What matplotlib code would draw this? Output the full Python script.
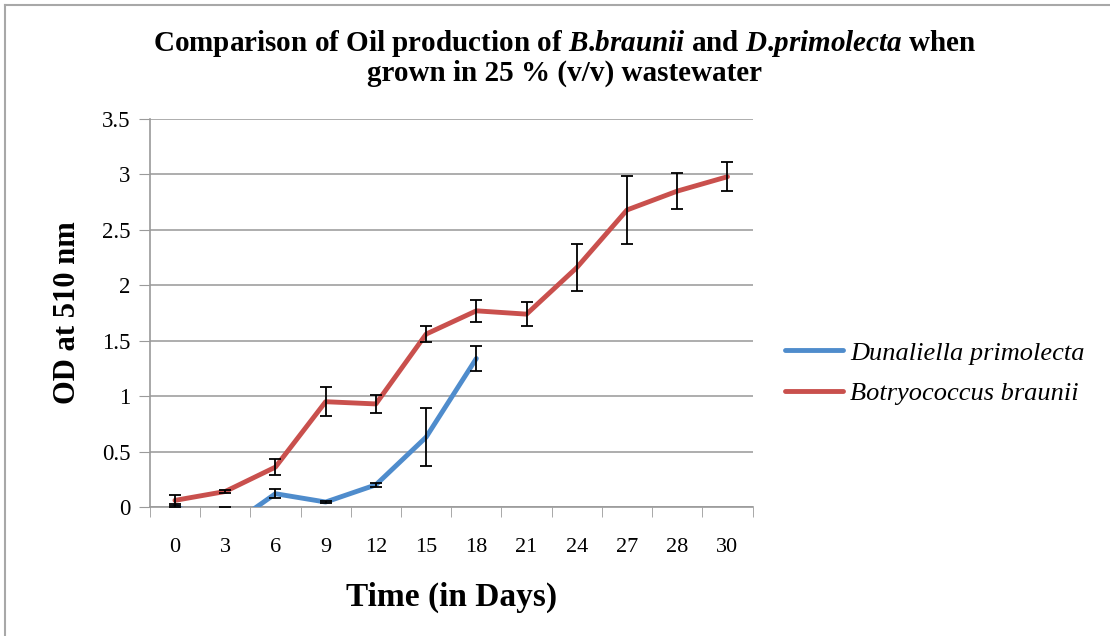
import matplotlib
matplotlib.use("Agg")
import matplotlib.pyplot as plt
import numpy as np
from matplotlib.lines import Line2D

plt.rcParams['font.family'] = ['Liberation Serif', 'DejaVu Serif']
plt.rcParams['mathtext.fontset'] = 'custom'
plt.rcParams['mathtext.rm'] = 'Liberation Serif:bold'
plt.rcParams['mathtext.it'] = 'Liberation Serif:italic:bold'
plt.rcParams['mathtext.bf'] = 'Liberation Serif:bold'

days = ['0', '3', '6', '9', '12', '15', '18', '21', '24', '27', '28', '30']

# Dunaliella primolecta (measured up to day 18)
dun_od = [0.01, -0.20, 0.12, 0.045, 0.20, 0.63, 1.34]
dun_err = [0.02, 0.20, 0.04, 0.01, 0.02, 0.26, 0.11]

# Botryococcus braunii
bot_od = [0.06, 0.14, 0.36, 0.95, 0.93, 1.56, 1.77, 1.74, 2.16, 2.68, 2.85, 2.98]
bot_err = [0.05, 0.01, 0.07, 0.13, 0.08, 0.07, 0.10, 0.11, 0.21, 0.31, 0.16, 0.13]

blue = '#4f8ccc'
red = '#c9504d'

fig = plt.figure(figsize=(11.1, 6.36), dpi=100)
ax = fig.add_axes([0.135, 0.2028, 0.543, 0.61])

x_all = np.arange(len(days))
x_dun = x_all[:len(dun_od)]

ax.plot(x_dun, dun_od, color=blue, lw=3.5, label='Dunaliella primolecta', zorder=3,
        solid_capstyle='round')
ax.plot(x_all, bot_od, color=red, lw=3.5, label='Botryococcus braunii', zorder=3,
        solid_capstyle='round')
ax.errorbar(x_dun, dun_od, yerr=dun_err, fmt='none', ecolor='black', elinewidth=1.3,
            capsize=4, capthick=1.3, zorder=4)
ax.errorbar(x_all, bot_od, yerr=bot_err, fmt='none', ecolor='black', elinewidth=1.3,
            capsize=4, capthick=1.3, zorder=4)

ax.set_xlim(-0.5, len(days) - 0.5)
ax.set_ylim(0, 3.5)
ax.set_yticks(np.arange(0, 3.51, 0.5))
ax.set_yticklabels(['0', '0.5', '1', '1.5', '2', '2.5', '3', '3.5'])
ax.set_xticks(x_all)
ax.set_xticklabels(days)
ax.set_xticks(np.arange(-0.5, len(days), 1), minor=True)
ax.tick_params(axis='x', which='major', length=0, labelsize=16, pad=22)
ax.tick_params(axis='x', which='minor', length=7, color='#9a9a9a', direction='out')
ax.tick_params(axis='y', length=8, color='#9a9a9a', labelsize=16.5, pad=6)

ax.grid(axis='y', color='#a0a0a0', lw=1.2)
ax.set_axisbelow(True)
for s in ['top', 'right']:
    ax.spines[s].set_visible(False)
for s in ['left', 'bottom']:
    ax.spines[s].set_color('#9a9a9a')
    ax.spines[s].set_linewidth(1.2)

ax.set_ylabel('OD at 510 nm', fontsize=22, fontweight='bold', labelpad=14)
ax.set_xlabel('Time (in Days)', fontsize=24, fontweight='bold', labelpad=18)

fig.text(0.509, 0.932,
         r'Comparison of Oil production of $\mathit{B}$.$\mathit{braunii}$ and $\mathit{D}$.$\mathit{primolecta}$ when',
         ha='center', va='center', fontsize=21, fontweight='bold')
fig.text(0.509, 0.885, 'grown in 25 % (v/v) wastewater',
         ha='center', va='center', fontsize=21, fontweight='bold')

leg = ax.legend(loc='center left', bbox_to_anchor=(1.015, 0.345), frameon=False,
                prop={'size': 19, 'style': 'italic'}, handlelength=2.2,
                handletextpad=0.25, labelspacing=0.65)

# outer frame (left and top edges)
fig.add_artist(Line2D([0.0045, 0.0045], [0, 0.992], color='#a8a8a8', lw=1.5,
                      transform=fig.transFigure))
fig.add_artist(Line2D([0.0045, 1.0], [0.992, 0.992], color='#a8a8a8', lw=1.5,
                      transform=fig.transFigure))

fig.savefig('out.png', dpi=100)
